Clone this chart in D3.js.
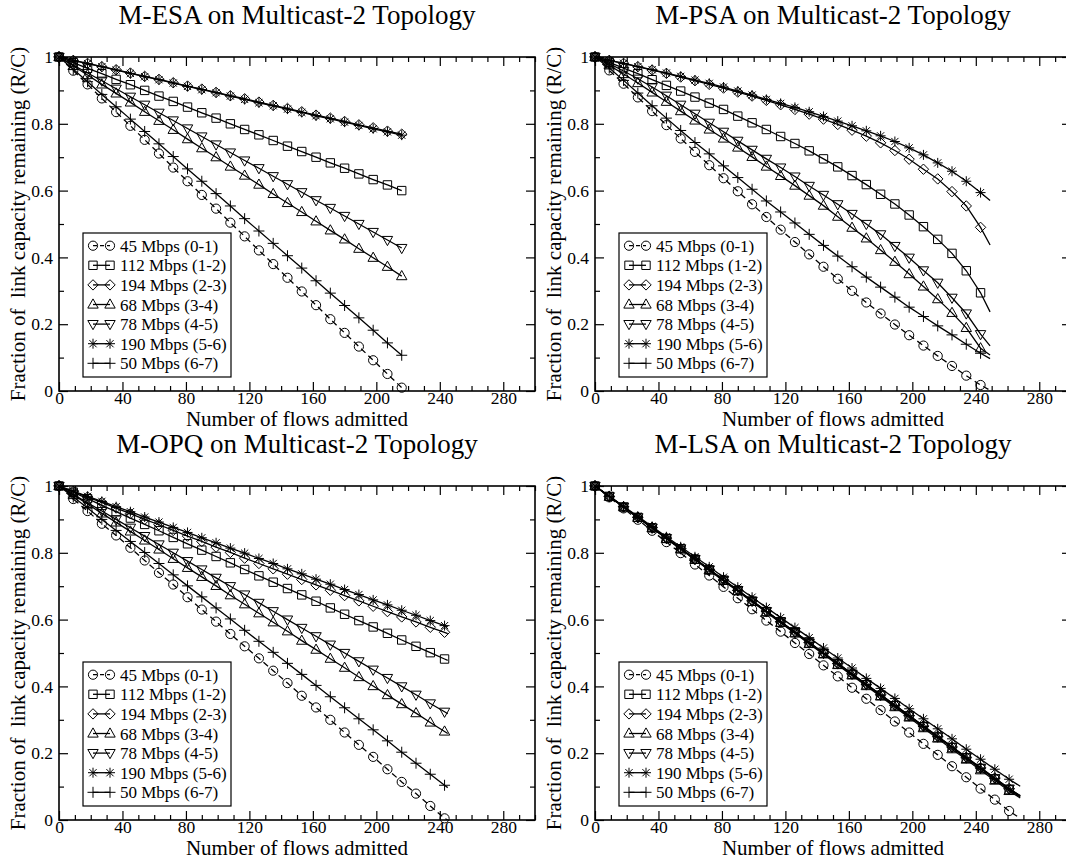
<!DOCTYPE html>
<html><head><meta charset="utf-8">
<script src="https://cdn.jsdelivr.net/npm/d3@7"></script>
<style>
body{margin:0;background:#fff}
svg text{font-family:"Liberation Serif","Times New Roman",Times,serif !important;fill:#000}
</style>
</head><body>
<svg id="c" width="1066" height="863"></svg>
<script>
// ---------- data ----------
const legendLabels = ["45 Mbps (0-1)","112 Mbps (1-2)","194 Mbps (2-3)","68 Mbps (3-4)","78 Mbps (4-5)","190 Mbps (5-6)","50 Mbps (6-7)"];
const symbolKinds = ["circle","square","diamond","triUp","triDown","star","plus"];
const xTicks = [0,40,80,120,160,200,240,280];
const xTickLabels = ["0","40","80","120","160","200","240","280"];
const yTicks = [0,0.2,0.4,0.6,0.8,1];
const yTickLabels = ["0","0.2","0.4","0.6","0.8","1"];
const panelTitles = ["M-ESA on Multicast-2 Topology","M-PSA on Multicast-2 Topology","M-OPQ on Multicast-2 Topology","M-LSA on Multicast-2 Topology"];
const xTitle = "Number of flows admitted";
const yTitle = "Fraction of  link capacity remaining (R/C)";

// M-ESA
const esaFlows = [0,9,18,27,36,45,54,63,72,81,90,99,108,117,126,135,144,153,162,171,180,189,198,207,216];
const esa45  = [1.000,0.959,0.918,0.876,0.835,0.794,0.752,0.711,0.669,0.628,0.587,0.546,0.504,0.463,0.421,0.380,0.339,0.298,0.257,0.215,0.174,0.133,0.092,0.051,0.010];
const esa112 = [1.000,0.983,0.966,0.950,0.933,0.917,0.900,0.883,0.867,0.850,0.833,0.817,0.800,0.783,0.767,0.750,0.733,0.717,0.700,0.683,0.667,0.650,0.633,0.617,0.600];
const esa194 = [1.000,0.990,0.981,0.971,0.962,0.952,0.942,0.933,0.923,0.913,0.904,0.894,0.884,0.875,0.865,0.855,0.846,0.836,0.826,0.817,0.807,0.797,0.788,0.778,0.769];
const esa68  = [1.000,0.973,0.946,0.918,0.891,0.864,0.836,0.809,0.782,0.754,0.727,0.700,0.672,0.645,0.618,0.590,0.563,0.536,0.508,0.481,0.454,0.426,0.399,0.372,0.344];
const esa78  = [1.000,0.976,0.952,0.929,0.905,0.881,0.857,0.833,0.810,0.786,0.762,0.738,0.714,0.690,0.667,0.643,0.619,0.595,0.571,0.548,0.524,0.500,0.476,0.452,0.428];
const esa190 = [1.000,0.990,0.980,0.971,0.961,0.951,0.941,0.932,0.922,0.912,0.902,0.893,0.883,0.873,0.863,0.854,0.844,0.834,0.824,0.815,0.805,0.795,0.785,0.776,0.766];
const esa50  = [1.000,0.963,0.926,0.888,0.851,0.814,0.777,0.740,0.702,0.665,0.628,0.591,0.554,0.516,0.479,0.442,0.405,0.368,0.330,0.293,0.256,0.219,0.182,0.144,0.107];

// M-PSA
const psaFlows = [0,9,18,27,36,45,54,63,72,81,90,99,108,117,126,135,144,153,162,171,180,189,198,207,216,225,234,243];
const psaEndFlow = 249;
const psa45  = [1.000,0.960,0.920,0.879,0.838,0.796,0.756,0.716,0.676,0.637,0.598,0.559,0.521,0.483,0.446,0.409,0.372,0.336,0.300,0.265,0.232,0.199,0.167,0.136,0.105,0.075,0.046,0.018];
const psa112 = [1.000,0.984,0.967,0.950,0.932,0.915,0.898,0.880,0.862,0.843,0.823,0.803,0.783,0.762,0.741,0.719,0.695,0.671,0.645,0.618,0.589,0.560,0.527,0.492,0.454,0.412,0.360,0.294];
const psa194 = [1.000,0.990,0.981,0.971,0.961,0.951,0.940,0.929,0.918,0.907,0.895,0.883,0.870,0.857,0.843,0.829,0.814,0.798,0.781,0.763,0.743,0.720,0.694,0.664,0.635,0.597,0.554,0.490];
const psa68  = [1.000,0.975,0.949,0.922,0.894,0.866,0.838,0.810,0.783,0.756,0.729,0.701,0.672,0.644,0.615,0.585,0.555,0.522,0.489,0.457,0.422,0.387,0.350,0.313,0.275,0.234,0.189,0.128];
const psa78  = [1.000,0.980,0.958,0.935,0.910,0.884,0.857,0.830,0.803,0.776,0.749,0.722,0.695,0.669,0.642,0.614,0.587,0.559,0.530,0.500,0.469,0.434,0.399,0.361,0.324,0.279,0.232,0.170];
const psa190 = [1.000,0.990,0.981,0.971,0.962,0.952,0.942,0.931,0.921,0.910,0.898,0.886,0.873,0.861,0.849,0.836,0.822,0.808,0.794,0.779,0.764,0.747,0.728,0.707,0.683,0.658,0.628,0.594];
const psa50  = [1.000,0.967,0.930,0.892,0.854,0.817,0.780,0.744,0.710,0.674,0.639,0.604,0.569,0.536,0.503,0.469,0.436,0.404,0.372,0.341,0.311,0.281,0.251,0.223,0.195,0.168,0.140,0.113];
const psaEnd = [0.002,0.237,0.437,0.108,0.135,0.570,0.097];

// M-OPQ
const opqFlows = [0,9,18,27,36,45,54,63,72,81,90,99,108,117,126,135,144,153,162,171,180,189,198,207,216,225,234,243];
const opqEndFlow = 245;
const opq45  = [1.000,0.961,0.925,0.887,0.852,0.815,0.777,0.740,0.705,0.667,0.630,0.594,0.557,0.520,0.484,0.447,0.410,0.372,0.337,0.300,0.262,0.225,0.189,0.152,0.114,0.079,0.042,0.005];
const opq112 = [1.000,0.981,0.962,0.942,0.923,0.904,0.885,0.866,0.846,0.827,0.808,0.789,0.770,0.750,0.731,0.712,0.693,0.674,0.655,0.635,0.616,0.597,0.578,0.559,0.539,0.520,0.501,0.482];
const opq194 = [1.000,0.984,0.967,0.951,0.934,0.917,0.900,0.884,0.867,0.850,0.834,0.817,0.801,0.784,0.768,0.752,0.736,0.720,0.704,0.688,0.672,0.656,0.640,0.624,0.608,0.593,0.577,0.562];
const opq68  = [1.000,0.973,0.946,0.918,0.891,0.864,0.837,0.810,0.782,0.755,0.728,0.701,0.673,0.646,0.619,0.592,0.565,0.537,0.510,0.483,0.456,0.428,0.401,0.374,0.347,0.320,0.292,0.265];
const opq78  = [1.000,0.975,0.950,0.925,0.900,0.875,0.850,0.825,0.800,0.775,0.750,0.725,0.700,0.675,0.650,0.625,0.600,0.575,0.550,0.525,0.500,0.475,0.450,0.425,0.400,0.375,0.349,0.324];
const opq190 = [1.000,0.985,0.969,0.954,0.938,0.923,0.907,0.892,0.876,0.861,0.845,0.830,0.814,0.799,0.783,0.768,0.752,0.737,0.721,0.706,0.690,0.675,0.659,0.644,0.628,0.613,0.597,0.582];
const opq50  = [1.000,0.967,0.934,0.900,0.867,0.834,0.801,0.768,0.734,0.701,0.668,0.635,0.602,0.568,0.535,0.502,0.469,0.436,0.403,0.369,0.336,0.303,0.270,0.237,0.203,0.170,0.137,0.104];
const opqEnd = [0.000,0.478,0.558,0.259,0.318,0.579,0.097];

// M-LSA
const lsaFlows = [0,9,18,27,36,45,54,63,72,81,90,99,108,117,126,135,144,153,162,171,180,189,198,207,216,225,234,243,252,261];
const lsaEndFlow = 268;
const lsa45  = [1.000,0.966,0.933,0.899,0.866,0.832,0.799,0.765,0.732,0.698,0.664,0.631,0.597,0.564,0.530,0.497,0.463,0.430,0.396,0.363,0.329,0.295,0.262,0.228,0.195,0.161,0.128,0.094,0.061,0.027];
const lsa112 = [1.000,0.969,0.937,0.906,0.875,0.843,0.812,0.781,0.749,0.718,0.687,0.655,0.624,0.593,0.561,0.530,0.499,0.467,0.436,0.405,0.373,0.342,0.311,0.279,0.248,0.217,0.185,0.154,0.122,0.091];
const lsa194 = [1.000,0.969,0.938,0.907,0.876,0.844,0.813,0.782,0.751,0.719,0.688,0.657,0.626,0.594,0.563,0.532,0.501,0.469,0.438,0.407,0.376,0.344,0.313,0.282,0.251,0.219,0.188,0.157,0.126,0.094];
const lsa68  = [1.000,0.968,0.937,0.905,0.874,0.842,0.811,0.779,0.748,0.716,0.685,0.653,0.622,0.590,0.559,0.527,0.496,0.464,0.433,0.401,0.370,0.338,0.307,0.275,0.244,0.212,0.181,0.149,0.118,0.087];
const lsa78  = [1.000,0.969,0.938,0.906,0.875,0.844,0.813,0.781,0.750,0.719,0.688,0.656,0.625,0.594,0.563,0.531,0.500,0.469,0.438,0.406,0.375,0.344,0.313,0.281,0.250,0.219,0.188,0.156,0.125,0.094];
const lsa190 = [1.000,0.970,0.939,0.909,0.879,0.848,0.818,0.788,0.758,0.727,0.697,0.667,0.636,0.606,0.576,0.546,0.515,0.485,0.455,0.424,0.394,0.364,0.333,0.303,0.273,0.243,0.212,0.182,0.152,0.122];
const lsa50  = [1.000,0.969,0.938,0.906,0.875,0.844,0.812,0.781,0.750,0.718,0.687,0.656,0.624,0.593,0.562,0.531,0.499,0.468,0.437,0.405,0.374,0.343,0.312,0.280,0.249,0.218,0.186,0.155,0.124,0.093];
const lsaEnd = [0.005,0.069,0.072,0.066,0.073,0.101,0.072];

// ---------- layout ----------
const panels = [
  {title:panelTitles[0], left:59,  top:57,  flows:esaFlows, endFlow:null,       ends:null,   series:[esa45,esa112,esa194,esa68,esa78,esa190,esa50]},
  {title:panelTitles[1], left:595, top:57,  flows:psaFlows, endFlow:psaEndFlow, ends:psaEnd, series:[psa45,psa112,psa194,psa68,psa78,psa190,psa50]},
  {title:panelTitles[2], left:59,  top:486, flows:opqFlows, endFlow:opqEndFlow, ends:opqEnd, series:[opq45,opq112,opq194,opq68,opq78,opq190,opq50]},
  {title:panelTitles[3], left:595, top:486, flows:lsaFlows, endFlow:lsaEndFlow, ends:lsaEnd, series:[lsa45,lsa112,lsa194,lsa68,lsa78,lsa190,lsa50]}
];
const W = 476, H = 334;
const FONT = '"Liberation Serif","Times New Roman",Times,serif';
const svg = d3.select("#c");

function symbolPath(kind){
  switch(kind){
    case "circle": return "M4.6,0A4.6,4.6 0 1,1 -4.6,0A4.6,4.6 0 1,1 4.6,0Z";
    case "square": return "M-4.2,-4.2H4.2V4.2H-4.2Z";
    case "diamond": return "M0,-5.2L5.2,0L0,5.2L-5.2,0Z";
    case "triUp": return "M0,-5.6L5.2,3.6H-5.2Z";
    case "triDown": return "M0,5.6L5.2,-3.6H-5.2Z";
    case "star": return "M-5,0H5M0,-5V5M-3.6,-3.6L3.6,3.6M-3.6,3.6L3.6,-3.6";
    case "plus": return "M-5.5,0H5.5M0,-5.5V5.5";
  }
}

panels.forEach(p => {
  const g = svg.append("g").attr("transform", `translate(${p.left},${p.top})`);
  const x = d3.scaleLinear().domain([0,300]).range([0,W]);
  const y = d3.scaleLinear().domain([0,1]).range([H,0]);
  const xMinor = d3.range(0,301,10).filter(v => v % 40 !== 0);
  const yMinor = [0.1,0.3,0.5,0.7,0.9];

  g.append("g").attr("transform",`translate(0,${H})`)
    .call(d3.axisBottom(x).tickValues(xTicks).tickSize(-9).tickPadding(1).tickFormat((d,i)=>xTickLabels[i]));
  g.append("g").attr("transform",`translate(0,${H})`)
    .call(d3.axisBottom(x).tickValues(xMinor).tickSize(-5).tickFormat(""));
  g.append("g").call(d3.axisTop(x).tickValues(xTicks).tickSize(-9).tickFormat(""));
  g.append("g").call(d3.axisTop(x).tickValues(xMinor).tickSize(-5).tickFormat(""));
  g.append("g")
    .call(d3.axisLeft(y).tickValues(yTicks).tickSize(-9).tickPadding(6).tickFormat((d,i)=>yTickLabels[i]));
  g.append("g").call(d3.axisLeft(y).tickValues(yMinor).tickSize(-5).tickFormat(""));
  g.append("g").attr("transform",`translate(${W},0)`).call(d3.axisRight(y).tickValues(yTicks).tickSize(-9).tickFormat(""));
  g.append("g").attr("transform",`translate(${W},0)`).call(d3.axisRight(y).tickValues(yMinor).tickSize(-5).tickFormat(""));
  g.selectAll(".domain").remove();
  g.selectAll("g").attr("font-family", FONT);
  g.selectAll(".tick line").attr("stroke","#000").attr("stroke-width",1.2);
  g.selectAll(".tick text").attr("font-size",17.5).style("font-family",FONT);

  g.append("rect").attr("width",W).attr("height",H).attr("fill","none").attr("stroke","#000").attr("stroke-width",1.6);

  const line = d3.line().x(d=>x(d[0])).y(d=>y(d[1]));
  p.series.forEach((vals, si) => {
    const pts = p.flows.map((f,i)=>[f, vals[i]]);
    const linePts = p.endFlow != null ? pts.concat([[p.endFlow, p.ends[si]]]) : pts;
    g.append("path").datum(linePts).attr("d", line).attr("fill","none")
      .attr("stroke","#000").attr("stroke-width",1.3)
      .attr("stroke-dasharray", si===0 ? "6,4" : null);
    g.append("g").selectAll("path").data(pts).join("path")
      .attr("transform", d=>`translate(${x(d[0])},${y(d[1])})`)
      .attr("d", symbolPath(symbolKinds[si]))
      .attr("fill","none").attr("stroke","#000").attr("stroke-width",1);
  });

  const lg = g.append("g").attr("transform","translate(24,176)");
  lg.append("rect").attr("width",148).attr("height",144).attr("fill","#fff").attr("stroke","#000").attr("stroke-width",1.2);
  legendLabels.forEach((lab, i) => {
    const cy = 12.7 + i*19.6;
    lg.append("line").attr("x1",10).attr("x2",27).attr("y1",cy).attr("y2",cy)
      .attr("stroke","#000").attr("stroke-width",1.3).attr("stroke-dasharray", i===0 ? "4,3" : null);
    [10,27].forEach(sx => lg.append("path").attr("transform",`translate(${sx},${cy})`)
      .attr("d", symbolPath(symbolKinds[i])).attr("fill","none").attr("stroke","#000").attr("stroke-width",1));
    lg.append("text").attr("x",37).attr("y",cy+6).attr("font-size",17).style("font-family",FONT).text(lab);
  });

  g.append("text").attr("x",W/2).attr("y",-33).attr("text-anchor","middle").attr("font-size",27)
    .style("font-family",FONT).text(p.title);
  g.append("text").attr("x",W/2).attr("y",H+34.5).attr("text-anchor","middle").attr("font-size",21)
    .style("font-family",FONT).text(xTitle);
  g.append("text").attr("transform",`translate(-34,${H/2}) rotate(-90)`).attr("text-anchor","middle")
    .attr("font-size",21).style("font-family",FONT).style("white-space","pre").text(yTitle);
});
</script>
</body></html>
